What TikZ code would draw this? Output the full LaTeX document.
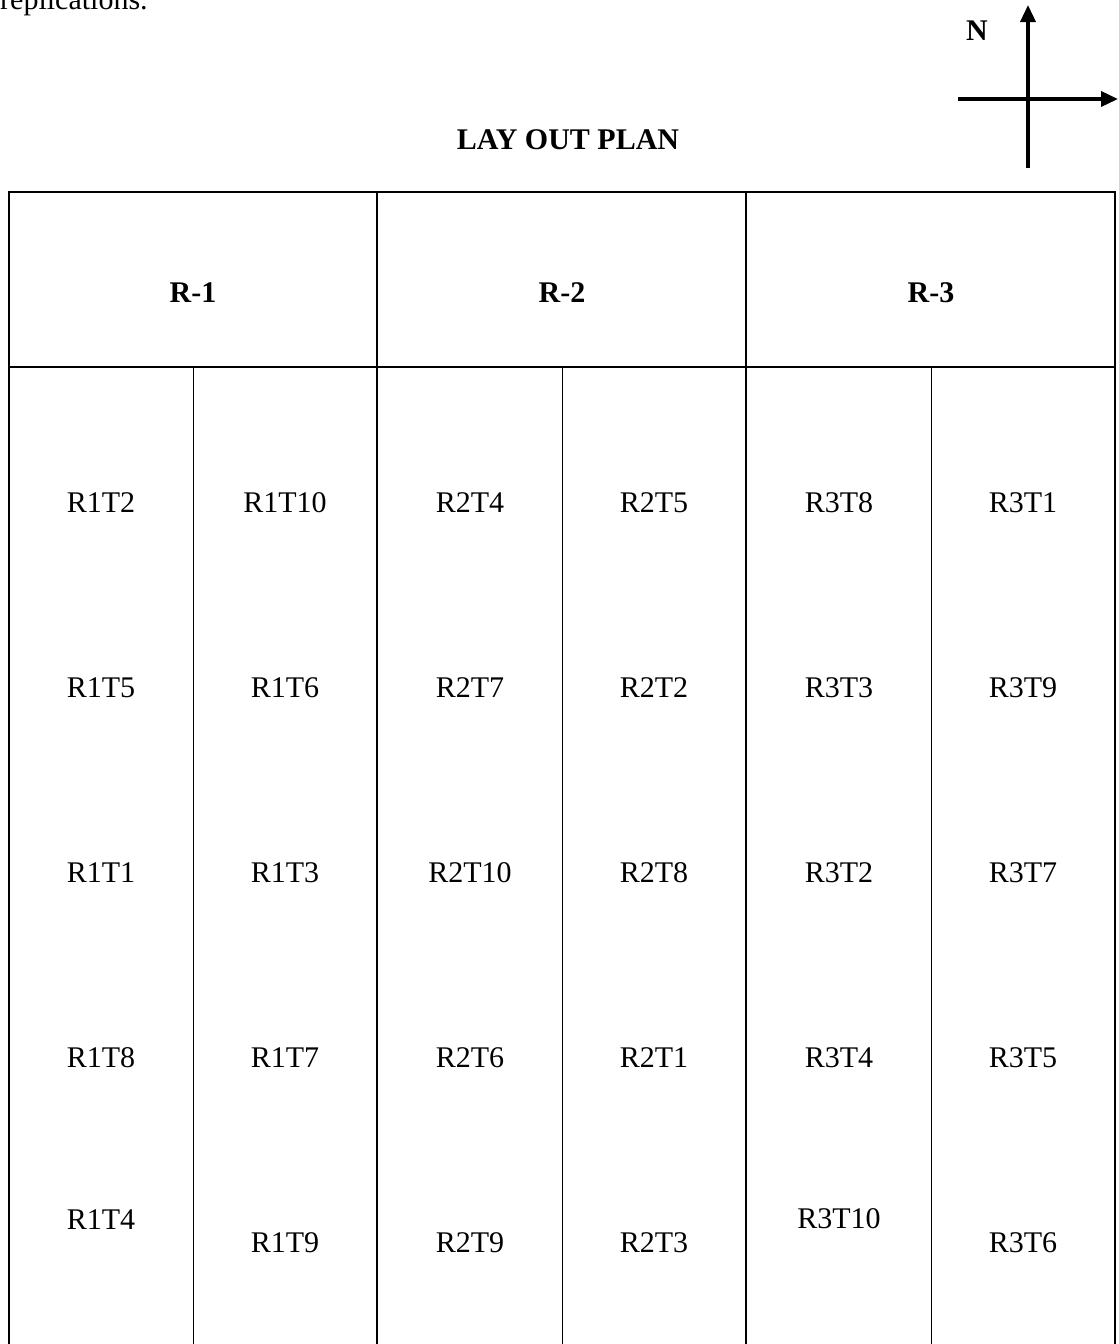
\documentclass[tikz,border=0pt]{standalone}
\usepackage{fontspec}
\setmainfont{Liberation Serif}
\usetikzlibrary{arrows.meta}
\tikzset{
  thick line/.style={line width=2.6pt},
  thin line/.style={line width=1pt},
  compass line/.style={line width=3.5pt, -{Triangle[length=17pt,width=15pt]}},
  cell/.style={anchor=base, inner sep=0pt, font=\fontsize{30}{36}\selectfont},
  head/.style={anchor=base, inner sep=0pt, font=\fontsize{30}{36}\selectfont\bfseries},
}
\begin{document}
\begin{tikzpicture}[x=1pt,y=-1pt]
\useasboundingbox (0,0) rectangle (1119,1344);
% cut-off text at top
\node[cell, anchor=base west] (repl) at (0,9) {replications.};
% compass
\coordinate (cS) at (1028,168);
\coordinate (cN) at (1028,5);
\coordinate (cW) at (958,99);
\coordinate (cE) at (1118,99);
\draw[compass line] (cS) -- (cN);
\draw[compass line] (cW) -- (cE);
\node[head] (north) at (977,40) {N};
% title
\node[head] (title) at (568,149) {LAY OUT PLAN};
% table frame
\draw[thick line] (9,1344) -- (9,192) -- (1115,192) -- (1115,1344);
\draw[thick line] (9,367) -- (1115,367);
\draw[thick line] (377,192) -- (377,1344);
\draw[thick line] (746,192) -- (746,1344);
\draw[thin line] (193,367) -- (193,1344);
\draw[thin line] (562,367) -- (562,1344);
\draw[thin line] (931,367) -- (931,1344);
% headers
\node[head] (h1) at (193,302) {R-1};
\node[head] (h2) at (562,302) {R-2};
\node[head] (h3) at (931,302) {R-3};
% cells
\foreach \r/\y/\a/\b/\c/\d/\e/\f in {
  1/512/R1T2/R1T10/R2T4/R2T5/R3T8/R3T1,
  2/697/R1T5/R1T6/R2T7/R2T2/R3T3/R3T9,
  3/882/R1T1/R1T3/R2T10/R2T8/R3T2/R3T7,
  4/1067/R1T8/R1T7/R2T6/R2T1/R3T4/R3T5}{
  \node[cell] (c\r a) at (101,\y) {\a};
  \node[cell] (c\r b) at (285,\y) {\b};
  \node[cell] (c\r c) at (470,\y) {\c};
  \node[cell] (c\r d) at (654,\y) {\d};
  \node[cell] (c\r e) at (839,\y) {\e};
  \node[cell] (c\r f) at (1023,\y) {\f};
}
\node[cell] (c5a) at (101,1229) {R1T4};
\node[cell] (c5b) at (285,1252) {R1T9};
\node[cell] (c5c) at (470,1252) {R2T9};
\node[cell] (c5d) at (654,1252) {R2T3};
\node[cell] (c5e) at (839,1228) {R3T10};
\node[cell] (c5f) at (1023,1252) {R3T6};
\end{tikzpicture}
\end{document}
